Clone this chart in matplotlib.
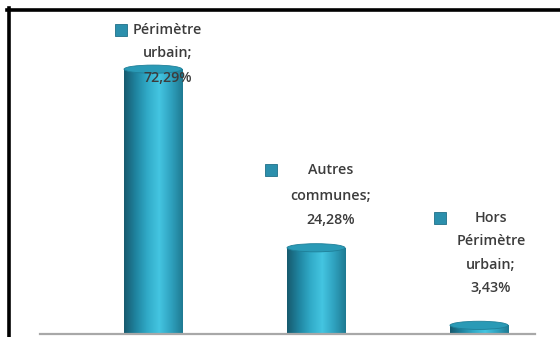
import numpy as np
import matplotlib
matplotlib.use("Agg")
from matplotlib import pyplot as plt
from matplotlib.patches import Ellipse
from matplotlib.colors import LinearSegmentedColormap

# données : répartition par localisation
categories = ["Périmètre\nurbain;", "Autres\ncommunes;", "Hors\nPérimètre\nurbain;"]
values = [72.29, 24.28, 3.43]
value_labels = ["72,29%", "24,28%", "3,43%"]

plt.rcParams['font.family'] = ['Open Sans', 'DejaVu Sans']

W, H = 560, 337
PX = 3.72  # pixels par %
fig = plt.figure(figsize=(W / 100, H / 100), dpi=100)
fig.patch.set_facecolor("white")

# zone de tracé : base à y=334 px
ax = fig.add_axes([0, 3 / H, 1, 1 - 3 / H])
ax.set_xlim(-0.939, 2.497)
ax.set_ylim(0, (H - 3) / PX)
ax.axis("off")

def ypix(y):
    # position verticale en pixels (depuis le haut) -> unités de données
    return (H - 3 - y) / PX

cyl = LinearSegmentedColormap.from_list(
    "cyl", ["#175a6e", "#1f84a0", "#31abc8", "#44c5e1", "#2fa2bf", "#1f7a92"])
grad = np.linspace(0, 1, 256).reshape(1, -1)

width = 0.356
x = np.arange(len(values))
bars = ax.bar(x, values, width=width, color="none", edgecolor="none")
eh = 2.2  # hauteur de l'ellipse du sommet
for rect, v in zip(bars, values):
    x0 = rect.get_x()
    rect.set_height(v - eh / 2)
    im = ax.imshow(grad, cmap=cyl, aspect="auto",
                   extent=(x0, x0 + width, 0, v - eh / 2), zorder=2)
    im.set_clip_path(rect)
    top = Ellipse((x0 + width / 2, v - eh / 2), width, eh,
                  facecolor="#2a9ab6", edgecolor="#1f7f98", lw=0.6, zorder=3)
    ax.add_patch(top)

# étiquettes : pastille + catégorie + valeur
label_x = [0.09, 1.092, 2.074]
label_y = [[30, 53, 78], [170, 196, 220], [218, 241, 265, 288]]
marker_x = [-0.196, 0.724, 1.761]
for i in range(len(values)):
    lines = categories[i].split("\n") + [value_labels[i]]
    for t, yp in zip(lines, label_y[i]):
        ax.text(label_x[i], ypix(yp), t, ha="center", va="center",
                fontsize=10.3, fontweight="semibold", color="#3c3c3c", zorder=5)
    ax.plot(marker_x[i], ypix(label_y[i][0]), marker="s", markersize=8,
            color="#2b8fac", markeredgecolor="#1f6f88", markeredgewidth=0.6,
            zorder=5)

# ligne de base grise
fig.add_artist(plt.Line2D([40 / W, 535 / W], [3 / H, 3 / H],
                          color="#a8a8a8", lw=1.6))
# cadre noir (haut et gauche)
fig.add_artist(plt.Line2D([7 / W, 1], [1 - 9.5 / H, 1 - 9.5 / H],
                          color="black", lw=2.6))
fig.add_artist(plt.Line2D([8.5 / W, 8.5 / W], [0, 1 - 8 / H],
                          color="black", lw=2.6))

fig.savefig("out.png", dpi=100)
